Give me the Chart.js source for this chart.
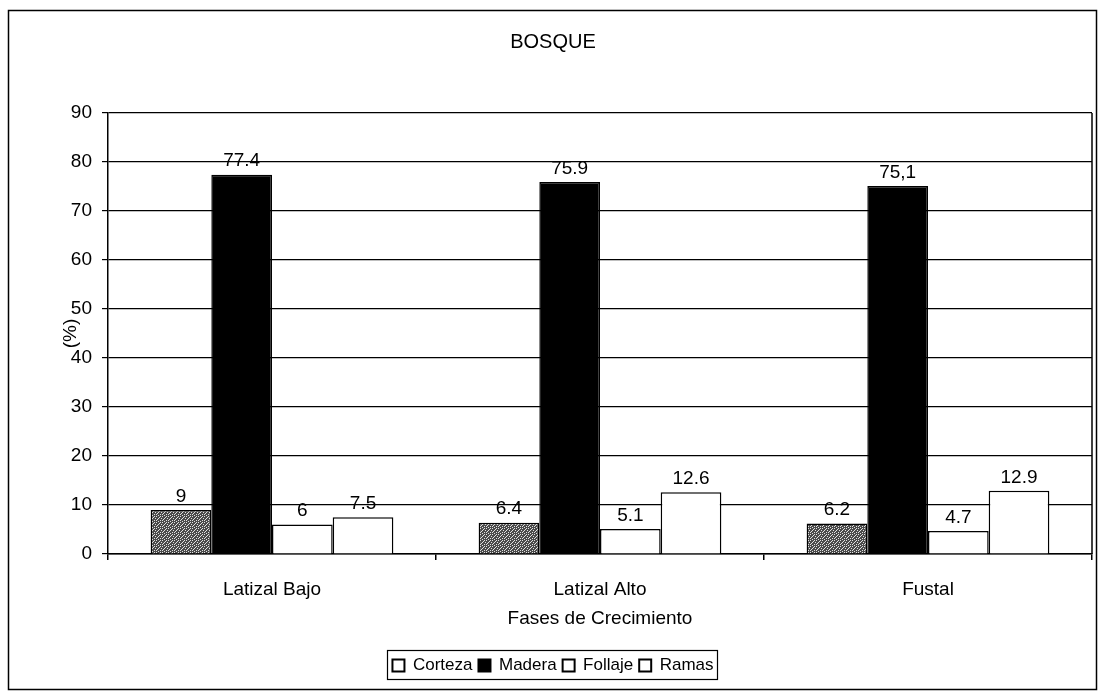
<!DOCTYPE html>
<html>
<head>
<meta charset="utf-8">
<script src="https://cdn.jsdelivr.net/npm/chart.js@4"></script>
<style>
  html, body { margin: 0; padding: 0; background: #fff; }
  canvas { display: block; }
</style>
</head>
<body>
<canvas id="bosque-chart" width="1104" height="696"></canvas>
<script>
const categories = ['Latizal Bajo', 'Latizal Alto', 'Fustal'];
const corteza = [9, 6.4, 6.2];
const madera = [77.4, 75.9, 75.1];
const follaje = [6, 5.1, 4.7];
const ramas = [7.5, 12.6, 12.9];
const maderaLabels = ['77.4', '75.9', '75,1'];
const yMin = 0;
const yMax = 90;
const yStep = 10;

Chart.defaults.font.family = '"Liberation Sans", Arial, sans-serif';
Chart.defaults.color = '#000';

// speckled grey fill for Corteza
function speckle() {
  const c = document.createElement('canvas');
  c.width = 6; c.height = 6;
  const g = c.getContext('2d');
  g.fillStyle = '#4a4a4a';
  g.fillRect(0, 0, 6, 6);
  g.fillStyle = '#e0e0e0';
  [[0, 0], [3, 1], [1, 3], [4, 4], [2, 5], [5, 2], [0, 4], [4, 0], [2, 2]].forEach(p => g.fillRect(p[0], p[1], 1, 1));
  return g.createPattern(c, 'repeat');
}

const frame = {
  id: 'frame',
  beforeDraw(chart) {
    const ctx = chart.ctx;
    ctx.save();
    ctx.fillStyle = '#fff';
    ctx.fillRect(0, 0, chart.width, chart.height);
    ctx.strokeStyle = '#000';
    ctx.lineWidth = 1.5;
    ctx.strokeRect(8.5, 10.5, 1088, 679);
    ctx.restore();
  },
  afterDraw(chart) {
    const ctx = chart.ctx;
    const a = chart.chartArea;
    ctx.save();
    ctx.strokeStyle = '#000';
    ctx.lineWidth = 1.5;
    ctx.beginPath();
    ctx.moveTo(a.right, a.top);
    ctx.lineTo(a.right, a.bottom);
    ctx.stroke();
    // box round the legend
    const boxes = chart.legend.legendHitBoxes;
    if (boxes.length) {
      const left = Math.min(...boxes.map(b => b.left)) - 5;
      const right = Math.max(...boxes.map(b => b.left + b.width)) + 4;
      const top = Math.min(...boxes.map(b => b.top)) - 7;
      const bottom = Math.max(...boxes.map(b => b.top + b.height)) + 5;
      ctx.lineWidth = 1.2;
      ctx.strokeRect(Math.round(left) + 0.5, Math.round(top) + 0.5, Math.round(right - left), Math.round(bottom - top));
    }
    ctx.restore();
  }
};

const valueLabels = {
  id: 'valueLabels',
  afterDatasetsDraw(chart) {
    const ctx = chart.ctx;
    ctx.save();
    ctx.font = '19px "Liberation Sans", Arial, sans-serif';
    ctx.fillStyle = '#000';
    ctx.textAlign = 'center';
    ctx.textBaseline = 'bottom';
    chart.data.datasets.forEach((ds, i) => {
      chart.getDatasetMeta(i).data.forEach((bar, j) => {
        const txt = ds.valueText ? ds.valueText[j] : String(ds.data[j]);
        ctx.fillText(txt, bar.x, bar.y - 4);
      });
    });
    ctx.restore();
  }
};

const ctx = document.getElementById('bosque-chart').getContext('2d');
const bosqueChart = new Chart(ctx, {
  type: 'bar',
  data: {
    labels: categories,
    datasets: [
      { label: 'Corteza', data: corteza, backgroundColor: speckle(), borderColor: '#000', borderWidth: 1.5 },
      { label: 'Madera', data: madera, valueText: maderaLabels, backgroundColor: '#000', borderColor: '#000', borderWidth: 1.5 },
      { label: 'Follaje', data: follaje, backgroundColor: '#fff', borderColor: '#000', borderWidth: 1.5 },
      { label: 'Ramas', data: ramas, backgroundColor: '#fff', borderColor: '#000', borderWidth: 1.5 }
    ]
  },
  options: {
    responsive: false,
    animation: false,
    devicePixelRatio: 1,
    categoryPercentage: 0.74,
    barPercentage: 1,
    layout: { padding: { left: 14, right: 12, top: 0, bottom: 12 } },
    plugins: {
      title: {
        display: true,
        text: 'BOSQUE',
        font: { size: 20, weight: 'normal' },
        padding: { top: 30, bottom: 59 }
      },
      legend: {
        position: 'bottom',
        labels: {
          boxWidth: 12,
          boxHeight: 12,
          padding: 6,
          font: { size: 17 },
          generateLabels(chart) {
            const items = Chart.defaults.plugins.legend.labels.generateLabels(chart);
            items.forEach(it => {
              it.fillStyle = it.text === 'Madera' ? '#000' : '#fff';
              it.strokeStyle = '#000';
              it.lineWidth = 2;
            });
            return items;
          }
        }
      },
      tooltip: { enabled: false }
    },
    scales: {
      x: {
        afterFit(scale) { scale.height = 97; },
        grid: { display: true, drawOnChartArea: false, offset: true, tickLength: 6, color: '#000', lineWidth: 1.5 },
        border: { color: '#000', width: 1.5 },
        ticks: { font: { size: 19 }, padding: 18 },
        title: { display: true, text: 'Fases de Crecimiento', font: { size: 19 }, padding: { top: 4, bottom: 21 } }
      },
      y: {
        min: yMin,
        max: yMax,
        afterFit(scale) { scale.width = 94; },
        ticks: { stepSize: yStep, font: { size: 19 }, padding: 10 },
        grid: { color: '#000', lineWidth: 1.2, tickLength: 6 },
        border: { color: '#000', width: 1.5 },
        title: { display: true, text: '(%)', font: { size: 19 }, padding: { top: 45, bottom: 0 } }
      }
    }
  },
  plugins: [frame, valueLabels]
});
</script>
</body>
</html>
